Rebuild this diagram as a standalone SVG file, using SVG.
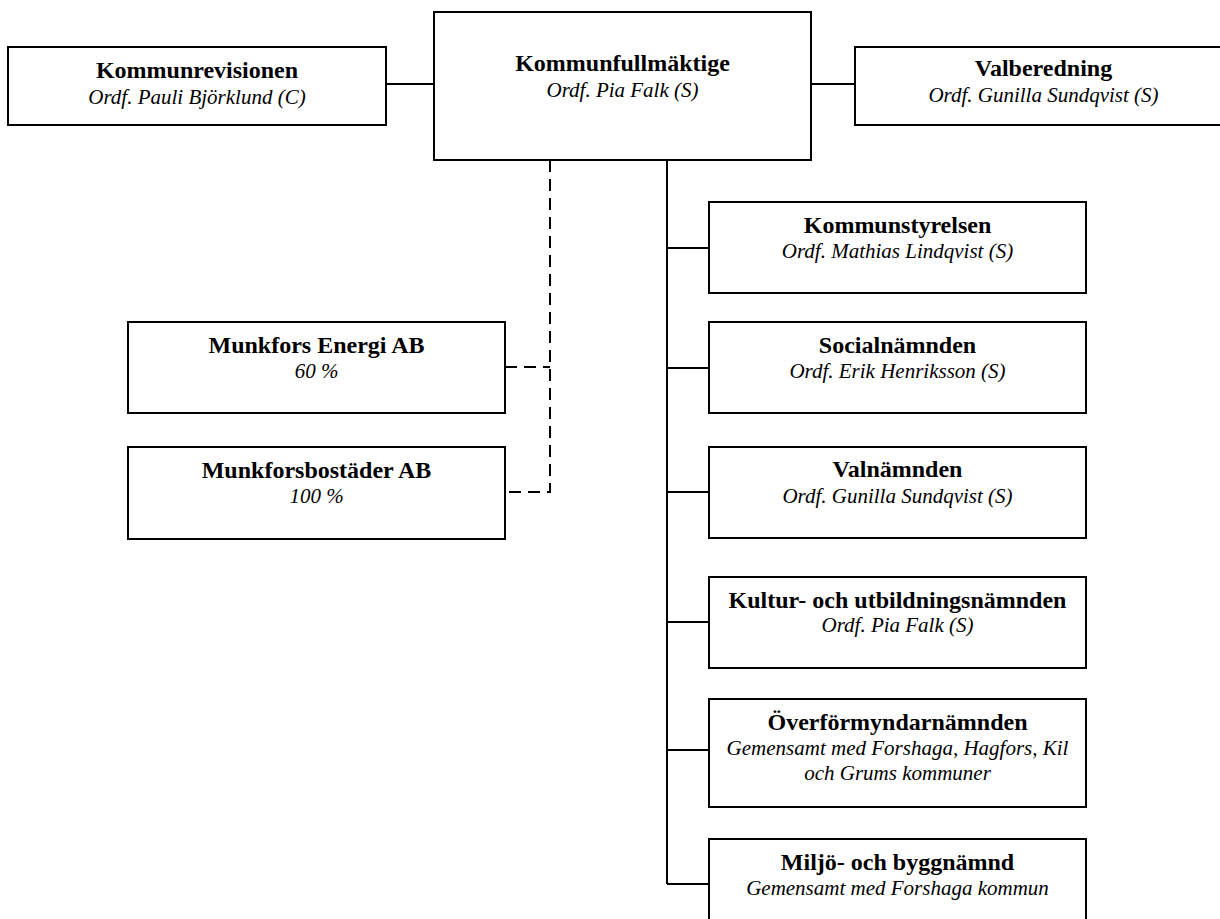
<svg xmlns="http://www.w3.org/2000/svg" width="1220" height="919" viewBox="0 0 1220 919">
<style>
.box{fill:#fff;stroke:#000;stroke-width:2}
.t{font-family:"Liberation Serif","Times New Roman",serif;font-weight:bold;font-size:24px;text-anchor:middle;fill:#000}
.s{font-family:"Liberation Serif","Times New Roman",serif;font-style:italic;font-size:21px;text-anchor:middle;fill:#000}
.c{fill:none;stroke:#000;stroke-width:2}
.d{fill:none;stroke:#000;stroke-width:2;stroke-dasharray:12 7}
</style>
<rect width="1220" height="919" fill="#fff"/>
<g id="connectors">
<line class="c" x1="386" y1="84" x2="434" y2="84"/>
<line class="c" x1="811" y1="84" x2="855" y2="84"/>
<line class="c" x1="667" y1="160" x2="667" y2="884"/>
<line class="c" x1="667" y1="248" x2="709" y2="248"/>
<line class="c" x1="667" y1="368" x2="709" y2="368"/>
<line class="c" x1="667" y1="492" x2="709" y2="492"/>
<line class="c" x1="667" y1="622" x2="709" y2="622"/>
<line class="c" x1="667" y1="750" x2="709" y2="750"/>
<line class="c" x1="667" y1="884" x2="709" y2="884"/>
<polyline class="d" points="550,160 550,492 505,492"/>
<line class="d" x1="505" y1="367" x2="550" y2="367"/>
</g>
<g id="kommunrevisionen">
<rect class="box" x="8" y="47" width="378" height="78"/>
<text class="t" x="197" y="78">Kommunrevisionen</text>
<text class="s" x="197" y="104">Ordf. Pauli Björklund (C)</text>
</g>
<g id="kommunfullmaktige">
<rect class="box" x="434" y="12" width="377" height="148"/>
<text class="t" x="622.5" y="71">Kommunfullmäktige</text>
<text class="s" x="622.5" y="97">Ordf. Pia Falk (S)</text>
</g>
<g id="valberedning">
<rect class="box" x="855" y="47" width="377" height="78"/>
<text class="t" x="1043.5" y="76">Valberedning</text>
<text class="s" x="1043.5" y="102">Ordf. Gunilla Sundqvist (S)</text>
</g>
<g id="munkfors-energi">
<rect class="box" x="128" y="322" width="377" height="91"/>
<text class="t" x="316.5" y="353">Munkfors Energi AB</text>
<text class="s" x="316.5" y="378">60 %</text>
</g>
<g id="munkforsbostader">
<rect class="box" x="128" y="447" width="377" height="92"/>
<text class="t" x="316.5" y="478">Munkforsbostäder AB</text>
<text class="s" x="316.5" y="503">100 %</text>
</g>
<g id="kommunstyrelsen">
<rect class="box" x="709" y="202" width="377" height="91"/>
<text class="t" x="897.5" y="233">Kommunstyrelsen</text>
<text class="s" x="897.5" y="258">Ordf. Mathias Lindqvist (S)</text>
</g>
<g id="socialnamnden">
<rect class="box" x="709" y="322" width="377" height="91"/>
<text class="t" x="897.5" y="353">Socialnämnden</text>
<text class="s" x="897.5" y="378">Ordf. Erik Henriksson (S)</text>
</g>
<g id="valnamnden">
<rect class="box" x="709" y="447" width="377" height="91"/>
<text class="t" x="897.5" y="477">Valnämnden</text>
<text class="s" x="897.5" y="503">Ordf. Gunilla Sundqvist (S)</text>
</g>
<g id="kultur">
<rect class="box" x="709" y="577" width="377" height="91"/>
<text class="t" x="897.5" y="608">Kultur- och utbildningsnämnden</text>
<text class="s" x="897.5" y="632">Ordf. Pia Falk (S)</text>
</g>
<g id="overformyndarnamnden">
<rect class="box" x="709" y="699" width="377" height="108"/>
<text class="t" x="897.5" y="730">Överförmyndarnämnden</text>
<text class="s" x="897.5" y="755">Gemensamt med Forshaga, Hagfors, Kil</text>
<text class="s" x="897.5" y="780">och Grums kommuner</text>
</g>
<g id="miljo">
<rect class="box" x="709" y="839" width="377" height="100"/>
<text class="t" x="897.5" y="870">Miljö- och byggnämnd</text>
<text class="s" x="897.5" y="895">Gemensamt med Forshaga kommun</text>
</g>
</svg>
